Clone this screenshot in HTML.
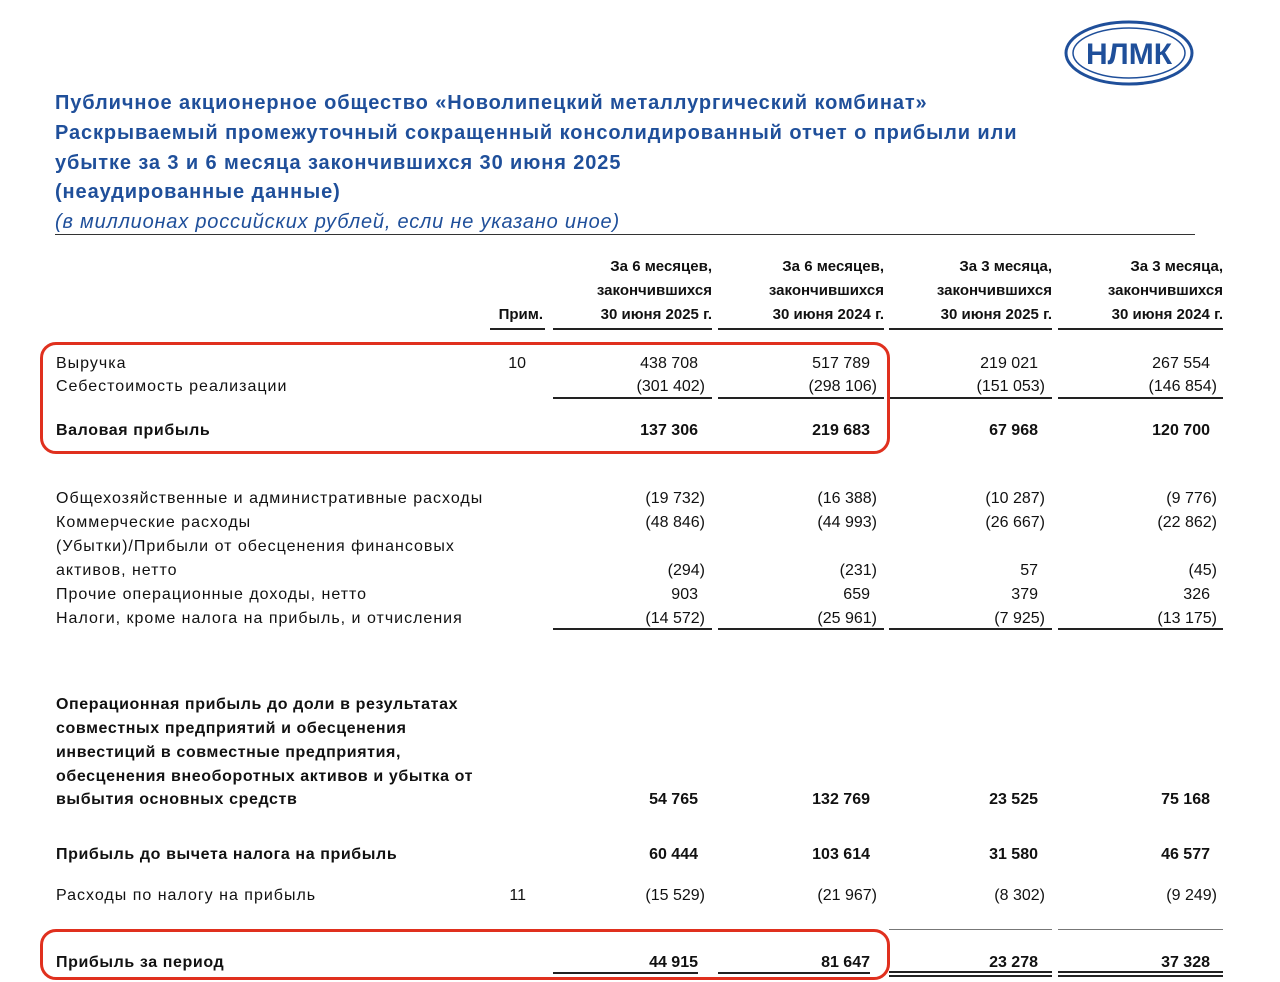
<!DOCTYPE html>
<html><head><meta charset="utf-8"><style>
body{margin:0;width:1280px;height:982px;background:#fff;position:relative;overflow:hidden;font-family:"Liberation Sans",sans-serif;color:#111}
.t{position:absolute;white-space:nowrap;line-height:1}
.h{color:#1f4f9a;font-weight:bold;font-size:20px;left:55px;letter-spacing:0.9px}
.l{left:56px;font-size:16px;letter-spacing:1px}
.b{font-weight:bold}
.l.b{letter-spacing:0.6px}
.n{font-size:16px;text-align:right}
.hd{font-size:15px;font-weight:bold;text-align:right;line-height:24px}
.ln{position:absolute;height:2px;background:#222}
.box{position:absolute;border:3px solid #e0301e;border-radius:16px}
</style></head><body>
<svg style="position:absolute;left:1063px;top:20px" width="132" height="66">
<ellipse cx="66" cy="33" rx="63" ry="31" fill="none" stroke="#1f4f9a" stroke-width="3"/>
<ellipse cx="66" cy="33" rx="56" ry="25" fill="none" stroke="#1f4f9a" stroke-width="1.5"/>
<text x="66" y="44" text-anchor="middle" font-family="Liberation Sans" font-weight="bold" font-size="30" fill="#1f4f9a">НЛМК</text>
</svg>
<div class="t h" style="top:93px">Публичное акционерное общество «Новолипецкий металлургический комбинат»</div>
<div class="t h" style="top:123px">Раскрываемый промежуточный сокращенный консолидированный отчет о прибыли или</div>
<div class="t h" style="top:153px">убытке за 3 и 6 месяца закончившихся 30 июня 2025</div>
<div class="t h" style="top:182px">(неаудированные данные)</div>
<div class="t h" style="top:212px;font-weight:normal;font-style:italic;letter-spacing:0.8px">(в миллионах российских рублей, если не указано иное)</div>
<div class="ln" style="left:55px;width:1140px;top:234px;height:1px;background:#333"></div>

<div class="t hd" style="left:553px;width:159px;top:255px">За 6 месяцев,<br>закончившихся<br>30 июня 2025 г.</div>
<div class="t hd" style="left:718px;width:166px;top:255px">За 6 месяцев,<br>закончившихся<br>30 июня 2024 г.</div>
<div class="t hd" style="left:889px;width:163px;top:255px">За 3 месяца,<br>закончившихся<br>30 июня 2025 г.</div>
<div class="t hd" style="left:1058px;width:165px;top:255px">За 3 месяца,<br>закончившихся<br>30 июня 2024 г.</div>
<div class="t hd" style="left:490px;width:53px;top:303px">Прим.</div>
<div class="ln" style="left:490px;width:55px;top:328px"></div>
<div class="ln" style="left:553px;width:159px;top:328px"></div>
<div class="ln" style="left:718px;width:166px;top:328px"></div>
<div class="ln" style="left:889px;width:163px;top:328px"></div>
<div class="ln" style="left:1058px;width:165px;top:328px"></div>

<div id="rows"></div>
<script>
var R=[
[362,"Выручка","10",["438 708","517 789","219 021","267 554"],0],
[385,"Себестоимость реализации","",["(301 402)","(298 106)","(151 053)","(146 854)"],0],
[429,"Валовая прибыль","",["137 306","219 683","67 968","120 700"],1],
[497,"Общехозяйственные и административные расходы","",["(19 732)","(16 388)","(10 287)","(9 776)"],0],
[521,"Коммерческие расходы","",["(48 846)","(44 993)","(26 667)","(22 862)"],0],
[545,"(Убытки)/Прибыли от обесценения финансовых","",["","","",""],0],
[569,"активов, нетто","",["(294)","(231)","57","(45)"],0],
[593,"Прочие операционные доходы, нетто","",["903","659","379","326"],0],
[617,"Налоги, кроме налога на прибыль, и отчисления","",["(14 572)","(25 961)","(7 925)","(13 175)"],0],
[703,"Операционная прибыль до доли в результатах","",["","","",""],1],
[727,"совместных предприятий и обесценения","",["","","",""],1],
[751,"инвестиций в совместные предприятия,","",["","","",""],1],
[775,"обесценения внеоборотных активов и убытка от","",["","","",""],1],
[798,"выбытия основных средств","",["54 765","132 769","23 525","75 168"],1],
[853,"Прибыль до вычета налога на прибыль","",["60 444","103 614","31 580","46 577"],1],
[894,"Расходы по налогу на прибыль","11",["(15 529)","(21 967)","(8 302)","(9 249)"],0],
[961,"Прибыль за период","",["44 915","81 647","23 278","37 328"],1]];
var E=[705,877,1045,1217],h="";
R.forEach(function(r){var y=r[0]-6,c=r[4]?" b":"";
h+='<div class="t l'+c+'" style="top:'+y+'px">'+r[1]+'</div>';
if(r[2])h+='<div class="t n" style="left:500px;width:26px;top:'+y+'px">'+r[2]+'</div>';
r[3].forEach(function(v,i){if(!v)return;var e=E[i]-(v[0]=="("?0:7);
h+='<div class="t n'+c+'" style="left:'+(e-150)+'px;width:150px;top:'+y+'px">'+v+'</div>';});});
document.getElementById("rows").innerHTML=h;
</script>
<div class="ln" style="left:553px;width:159px;top:397px;height:1.5px"></div>
<div class="ln" style="left:718px;width:166px;top:397px;height:1.5px"></div>
<div class="ln" style="left:889px;width:163px;top:397px;height:1.5px"></div>
<div class="ln" style="left:1058px;width:165px;top:397px;height:1.5px"></div>
<div class="ln" style="left:553px;width:159px;top:628px;height:1.5px"></div>
<div class="ln" style="left:718px;width:166px;top:628px;height:1.5px"></div>
<div class="ln" style="left:889px;width:163px;top:628px;height:1.5px"></div>
<div class="ln" style="left:1058px;width:165px;top:628px;height:1.5px"></div>
<div class="ln" style="left:889px;width:163px;top:929px;height:1px;background:#777"></div>
<div class="ln" style="left:1058px;width:165px;top:929px;height:1px;background:#777"></div>
<div class="ln" style="left:553px;width:145px;top:972px"></div>
<div class="ln" style="left:718px;width:152px;top:972px"></div>
<div class="ln" style="left:889px;width:163px;top:971px;height:1.5px"></div>
<div class="ln" style="left:889px;width:163px;top:975px;height:1.5px"></div>
<div class="ln" style="left:1058px;width:165px;top:971px;height:1.5px"></div>
<div class="ln" style="left:1058px;width:165px;top:975px;height:1.5px"></div>
<div class="box" style="left:40px;top:342px;width:844px;height:106px"></div>
<div class="box" style="left:40px;top:929px;width:844px;height:45px"></div>
</body></html>
